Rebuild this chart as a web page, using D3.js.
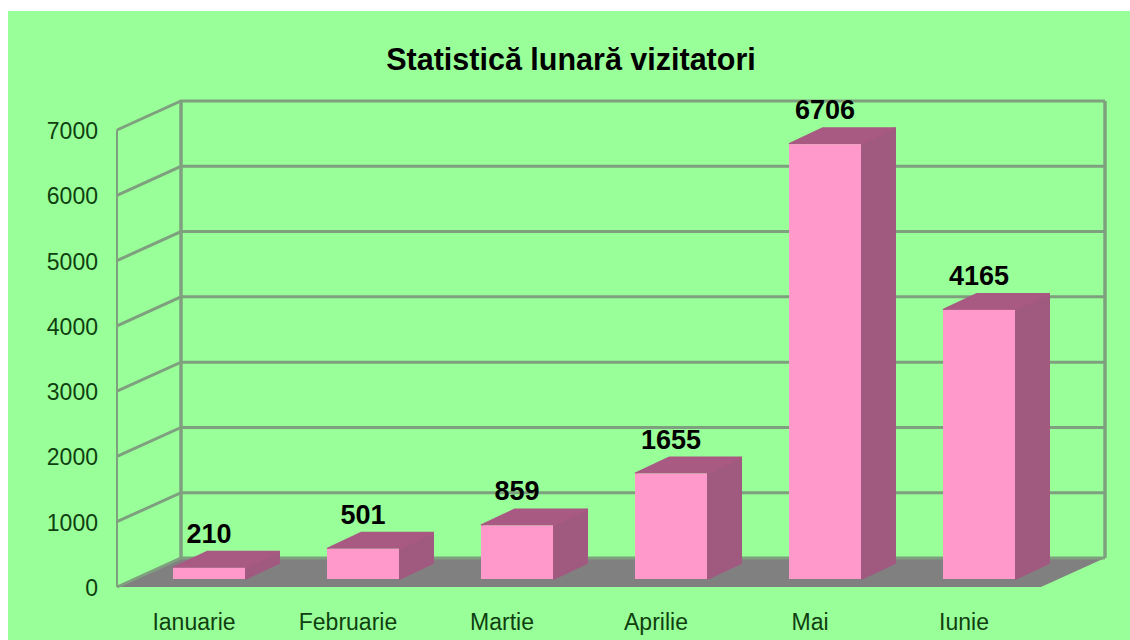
<!DOCTYPE html>
<html>
<head>
<meta charset="utf-8">
<script src="https://cdn.jsdelivr.net/npm/d3@7"></script>
<style>
body { margin: 0; background: #fff; }
text { font-family: "Liberation Sans", sans-serif; }
</style>
</head>
<body>
<svg></svg>
<script>
var months = ["Ianuarie", "Februarie", "Martie", "Aprilie", "Mai", "Iunie"];
var visitors = [210, 501, 859, 1655, 6706, 4165];
var ticks = [0, 1000, 2000, 3000, 4000, 5000, 6000, 7000];
var title = "Statistică lunară vizitatori";

var width = 1130;
var height = 640;

// offset between the front edge of the box and the back wall
var depthX = 64;
var depthY = -29;
// bar depth, and how far the bars sit behind the front edge
var barDepthX = 34;
var barDepthY = -16;
var barFoot = 579;
var barOffset = 56;
var barWidth = 72;

var gridColor = "#7fa07f";

var svg = d3.select("svg")
	.attr("width", width)
	.attr("height", height)
	.style("display", "block");

// the reference is a soft jpeg, so soften everything a little
var blur = svg.append("defs")
	.append("filter")
	.attr("id", "soft");
blur.append("feGaussianBlur")
	.attr("stdDeviation", 0.6);

var xScale = d3.scaleBand()
	.domain(months)
	.range([117, 1041]);

var yScale = d3.scaleLinear()
	.domain([0, 7000])
	.range([587, 130]);

var barScale = d3.scaleLinear()
	.domain([0, 7000])
	.range([581.5, 125]);

var chart = svg.append("g")
	.attr("filter", "url(#soft)");

// background
svg.insert("rect", "g")
	.attr("x", 8)
	.attr("y", 11)
	.attr("width", width - 8)
	.attr("height", height - 11)
	.attr("fill", "#99ff99");

var x0 = xScale.range()[0];
var x1 = xScale.range()[1];

// floor
chart.append("path")
	.attr("d", d3.line()([
		[x0, yScale(0)],
		[x1, yScale(0)],
		[x1 + depthX, yScale(0) + depthY],
		[x0 + depthX, yScale(0) + depthY]
	]))
	.attr("fill", "#808080");

// grid lines on the side wall and the back wall
chart.append("g")
	.selectAll("path")
	.data(ticks)
	.join("path")
	.attr("d", d => d3.line()([
		[x0, yScale(d)],
		[x0 + depthX, yScale(d) + depthY],
		[x1 + depthX, yScale(d) + depthY]
	]))
	.attr("fill", "none")
	.attr("stroke", gridColor)
	.attr("stroke-width", 3);

// wall edges
chart.append("path")
	.attr("d", d3.line()([[x0, yScale(0)], [x0, yScale(7000)]]))
	.attr("stroke", gridColor)
	.attr("stroke-width", 2);

chart.append("path")
	.attr("d", d3.line()([[x0 + depthX, yScale(0) + depthY], [x0 + depthX, yScale(7000) + depthY]]))
	.attr("stroke", gridColor)
	.attr("stroke-width", 3.5);

chart.append("path")
	.attr("d", d3.line()([[x1 + depthX, yScale(0) + depthY], [x1 + depthX, yScale(7000) + depthY]]))
	.attr("stroke", gridColor)
	.attr("stroke-width", 3.5);

// bars
var bars = chart.append("g")
	.selectAll("g")
	.data(months.map((m, i) => ({ month: m, value: visitors[i] })))
	.join("g");

// right side
bars.append("path")
	.attr("d", d => {
		var l = xScale(d.month) + barOffset + barWidth;
		var t = barScale(d.value);
		return d3.line()([
			[l, t],
			[l + barDepthX, t + barDepthY],
			[l + barDepthX, barFoot + barDepthY],
			[l, barFoot]
		]);
	})
	.attr("fill", "#a05a80")
	.attr("stroke", "#a05a80")
	.attr("stroke-width", 2)
	.attr("stroke-linejoin", "round");

// top
bars.append("path")
	.attr("d", d => {
		var l = xScale(d.month) + barOffset;
		var t = barScale(d.value);
		return d3.line()([
			[l, t],
			[l + barDepthX, t + barDepthY],
			[l + barWidth + barDepthX, t + barDepthY],
			[l + barWidth, t]
		]);
	})
	.attr("fill", "#a85a82")
	.attr("stroke", "#a85a82")
	.attr("stroke-width", 2)
	.attr("stroke-linejoin", "round");

// front
bars.append("rect")
	.attr("x", d => xScale(d.month) + barOffset)
	.attr("y", d => barScale(d.value))
	.attr("width", barWidth)
	.attr("height", d => barFoot - barScale(d.value))
	.attr("fill", "#ff99cc");

// value labels
var labels = svg.append("g");

labels.selectAll("text.value")
	.data(months.map((m, i) => ({ month: m, value: visitors[i] })))
	.join("text")
	.classed("value", true)
	.attr("x", d => xScale(d.month) + barOffset + barWidth / 2)
	.attr("y", d => barScale(d.value) + barDepthY - 9)
	.attr("text-anchor", "middle")
	.style("font-size", "27px")
	.style("font-weight", "bold")
	.attr("fill", "#000")
	.text(d => d.value);

// y axis labels
labels.selectAll("text.tick")
	.data(ticks)
	.join("text")
	.classed("tick", true)
	.attr("x", 98)
	.attr("y", d => yScale(d) + 9)
	.attr("text-anchor", "end")
	.style("font-size", "23px")
	.attr("fill", "#0f3f0f")
	.text(d => d);

// x axis labels
labels.selectAll("text.month")
	.data(months)
	.join("text")
	.classed("month", true)
	.attr("x", d => xScale(d) + xScale.bandwidth() / 2)
	.attr("y", 630)
	.attr("text-anchor", "middle")
	.style("font-size", "23px")
	.attr("fill", "#0f3f0f")
	.text(d => d);

labels.append("text")
	.attr("x", 571)
	.attr("y", 70)
	.attr("text-anchor", "middle")
	.style("font-size", "30.5px")
	.style("font-weight", "bold")
	.attr("fill", "#000")
	.text(title);
</script>
</body>
</html>
